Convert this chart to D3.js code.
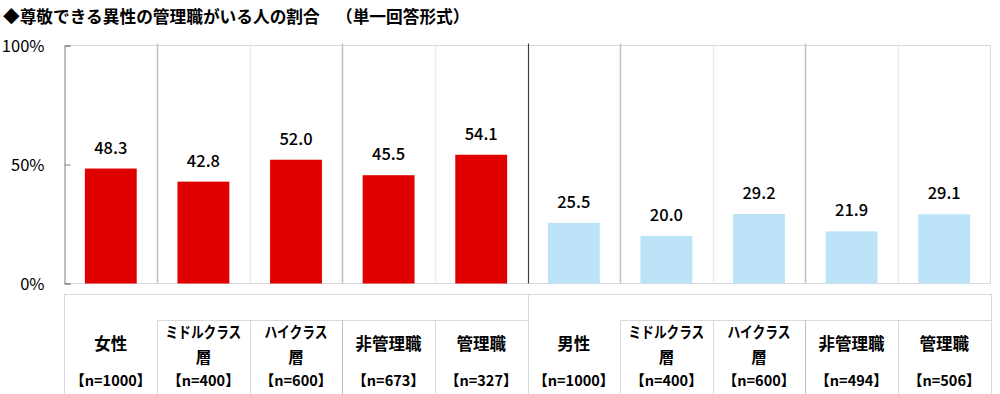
<!DOCTYPE html>
<html>
<head>
<meta charset="utf-8">
<script src="https://cdn.jsdelivr.net/npm/d3@7"></script>
<style>
  html, body { margin: 0; padding: 0; background: #fff; }
  svg { display: block; }
  text { font-family: "Noto Sans CJK JP", "Noto Sans", sans-serif; }
</style>
</head>
<body>
<svg id="chart" width="1000" height="394"></svg>
<script>
// ---- data ----
const titleMain = "◆尊敬できる異性の管理職がいる人の割合";
const titleSub = "（単一回答形式）";
const categoryLines = [
  ["女性"], ["ミドルクラス", "層"], ["ハイクラス", "層"], ["非管理職"], ["管理職"],
  ["男性"], ["ミドルクラス", "層"], ["ハイクラス", "層"], ["非管理職"], ["管理職"]
];
const sampleSizes = ["【n=1000】", "【n=400】", "【n=600】", "【n=673】", "【n=327】",
                     "【n=1000】", "【n=400】", "【n=600】", "【n=494】", "【n=506】"];
const values = [48.3, 42.8, 52.0, 45.5, 54.1, 25.5, 20.0, 29.2, 21.9, 29.1];
const groupOf = [0, 0, 0, 0, 0, 1, 1, 1, 1, 1];
const groupColors = ["#e00000", "#bde3f9"];
const yTicks = [0, 50, 100];

// ---- layout ----
const svg = d3.select("#chart");
const pLeft = 64.5, pRight = 990.5, pTop = 45.5, pBottom = 283.5;
const idx = d3.range(values.length);

const x = d3.scaleBand().domain(idx).range([pLeft, pRight]).paddingInner(0.44).paddingOuter(0.22);
const slot = d3.scaleBand().domain(idx).range([pLeft, pRight]).padding(0);
const y = d3.scaleLinear().domain([0, 100]).range([pBottom, pTop]);

// title
svg.append("text").attr("x", 3).attr("y", 16).attr("dominant-baseline", "central")
  .attr("font-size", 16.7).attr("font-weight", 700).attr("fill", "#000").text(titleMain);
svg.append("text").attr("x", 336).attr("y", 16).attr("dominant-baseline", "central")
  .attr("font-size", 16.7).attr("font-weight", 700).attr("fill", "#000").text(titleSub);

// plot border (top, right, bottom)
svg.append("line").attr("x1", pLeft).attr("x2", pRight).attr("y1", pTop).attr("y2", pTop)
  .attr("stroke", "#d9d9d9");
svg.append("line").attr("x1", pRight).attr("x2", pRight).attr("y1", pTop).attr("y2", pBottom)
  .attr("stroke", "#d9d9d9");
svg.append("line").attr("x1", pLeft).attr("x2", pRight).attr("y1", pBottom).attr("y2", pBottom)
  .attr("stroke", "#d9d9d9");

// separators in plot
const seps = idx.slice(1);
function sepColor(i) {
  const j = i % 5;
  if (j === 0) return "#404040";
  if (j === 1 || j === 3) return "#c0c0c0";
  return "#ececec";
}
svg.append("g").selectAll("line").data(seps).join("line")
  .attr("x1", d => Math.round(slot(d)) + 0.5)
  .attr("x2", d => Math.round(slot(d)) + 0.5)
  .attr("y1", pTop - 2).attr("y2", pBottom)
  .attr("stroke", d => sepColor(d))
  .attr("stroke-width", d => d % 5 === 0 ? 1.2 : 1.5);

// bars
svg.append("g").selectAll("rect").data(idx).join("rect")
  .attr("x", d => x(d))
  .attr("width", x.bandwidth())
  .attr("y", d => y(values[d]))
  .attr("height", d => y(0) - y(values[d]))
  .attr("fill", d => groupColors[groupOf[d]]);

// value labels
svg.append("g").selectAll("text").data(idx).join("text")
  .attr("x", d => x(d) + x.bandwidth() / 2)
  .attr("y", d => y(values[d]) - 15)
  .attr("text-anchor", "middle")
  .attr("font-family", "'Noto Sans', sans-serif")
  .attr("font-size", 16.5).attr("font-weight", 500).attr("fill", "#000")
  .text(d => values[d].toFixed(1));

// y axis
const yAxis = d3.axisLeft(y).tickValues(yTicks).tickSize(-6).tickPadding(0)
  .tickFormat(d => d + "%");
const ga = svg.append("g").attr("transform", `translate(${pLeft},0)`).call(yAxis);
ga.select(".domain").attr("stroke", "#808080");
ga.selectAll(".tick line").attr("stroke", "#808080");
ga.selectAll(".tick text")
  .attr("x", -20).attr("dy", "0.35em")
  .attr("font-family", "'Noto Sans', sans-serif")
  .attr("font-size", 16.5).attr("fill", "#000");

// ---- category table ----
const tTop = 294.5, tInner = 320.5, tBottom = 400;
const tbl = svg.append("g").attr("stroke", "#d9d9d9").attr("fill", "none");
tbl.append("rect").attr("x", pLeft).attr("y", tTop).attr("width", pRight - pLeft + 1).attr("height", tBottom - tTop);
// group divider
tbl.selectAll("line.g").data(seps.filter(d => d % 5 === 0)).join("line")
  .attr("x1", d => Math.round(slot(d)) + 0.5).attr("x2", d => Math.round(slot(d)) + 0.5)
  .attr("y1", tTop).attr("y2", tBottom);
// inner horizontal lines for subgroups
const groupStarts = idx.filter(d => d % 5 === 0);
tbl.selectAll("line.h").data(groupStarts).join("line")
  .attr("x1", d => Math.round(slot(d + 1)) + 0.5)
  .attr("x2", d => Math.round(slot(d + 4) + slot.bandwidth()) + 0.5)
  .attr("y1", tInner).attr("y2", tInner);
// subgroup verticals
tbl.selectAll("line.v").data(seps.filter(d => d % 5 !== 0)).join("line")
  .attr("x1", d => Math.round(slot(d)) + 0.5).attr("x2", d => Math.round(slot(d)) + 0.5)
  .attr("y1", tInner).attr("y2", tBottom)
  .attr("stroke", d => d % 5 === 3 ? "#bfbfbf" : "#d9d9d9");

// category labels
const labels = svg.append("g").attr("font-weight", 700).attr("fill", "#000")
  .attr("text-anchor", "middle");
const isKana = t => /^[\u30A0-\u30FF]+$/.test(t);
idx.forEach(d => {
  const cx = slot(d) + slot.bandwidth() / 2;
  const lines = categoryLines[d];
  const ys = lines.length === 1 ? [343] : [331, 355.5];
  lines.forEach((t, k) => {
    const tx = labels.append("text").attr("x", cx).attr("y", ys[k])
      .attr("dominant-baseline", "central").text(t);
    if (isKana(t)) {
      tx.attr("font-size", 15.5).attr("textLength", t.length * 12.6).attr("lengthAdjust", "spacingAndGlyphs");
    } else {
      tx.attr("font-size", lines.length === 1 ? 16.5 : 15.5);
    }
  });
  labels.append("text").attr("x", cx).attr("y", 379).attr("dominant-baseline", "central")
    .attr("font-size", 14.5).text(sampleSizes[d]);
});
</script>
</body>
</html>
